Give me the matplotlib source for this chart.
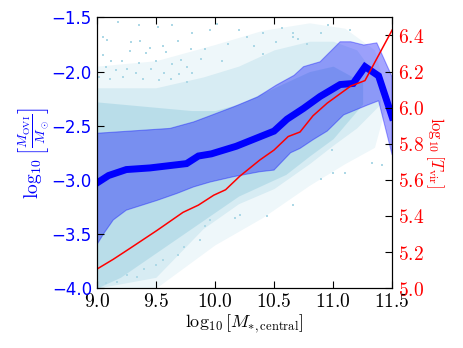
import numpy as np
import matplotlib
matplotlib.use("Agg")
import matplotlib.pyplot as plt
from matplotlib.ticker import FixedLocator, FuncFormatter

plt.rcParams['mathtext.fontset'] = 'cm'

# median OVI mass (thick blue line)
med_x = [9.0, 9.1, 9.25, 9.45, 9.76, 9.86, 9.97, 10.18, 10.5, 10.61, 10.75, 10.89, 11.06, 11.17, 11.27, 11.385, 11.5]
med_y = [-3.03, -2.96, -2.905, -2.89, -2.85, -2.78, -2.76, -2.69, -2.55, -2.44, -2.34, -2.23, -2.12, -2.11, -1.955, -2.04, -2.42]

# scatter band (upper / lower edge)
up_x = [9.0, 9.14, 9.62, 9.82, 9.93, 10.16, 10.36, 10.52, 10.67, 10.75, 10.89, 11.06, 11.15, 11.26, 11.37, 11.5]
up_y = [-2.57, -2.56, -2.525, -2.465, -2.42, -2.325, -2.235, -2.125, -2.035, -1.955, -1.91, -1.725, -1.725, -1.755, -1.735, -2.05]
lo_x = [9.0, 9.06, 9.14, 9.25, 9.51, 9.68, 9.82, 9.96, 10.16, 10.38, 10.5, 10.64, 10.72, 10.83, 10.95, 11.09, 11.29, 11.385, 11.5]
lo_y = [-3.6, -3.495, -3.37, -3.28, -3.19, -3.125, -3.065, -3.02, -2.97, -2.925, -2.91, -2.75, -2.71, -2.63, -2.55, -2.4, -2.31, -2.27, -2.77]

# virial temperature (red, right axis)
red_x = [9.0, 9.14, 9.28, 9.51, 9.73, 9.86, 9.99, 10.09, 10.21, 10.38, 10.5, 10.62, 10.72, 10.83, 10.95, 11.15, 11.27, 11.5]
red_y = [5.105, 5.16, 5.22, 5.32, 5.42, 5.46, 5.515, 5.545, 5.62, 5.71, 5.765, 5.84, 5.865, 5.955, 6.025, 6.12, 6.15, 6.43]

# galaxy cloud: outer, middle and dense layers
outer_x = [9.0, 9.5, 10.0, 10.4, 10.8, 11.1, 11.35, 11.45]
outer_hi = [-1.95, -1.9, -1.75, -1.62, -1.55, -1.6, -1.8, -2.2]
outer_lo = [-4.0, -4.0, -3.6, -3.35, -3.05, -2.85, -2.7, -2.3]
halo_x = [9.0, 9.5, 9.9, 10.2, 10.5, 10.8, 11.0, 11.2, 11.4]
halo_hi = [-2.15, -2.15, -2.05, -1.95, -1.8, -1.72, -1.72, -1.8, -2.1]
halo_lo = [-4.0, -3.9, -3.45, -3.22, -3.08, -2.85, -2.68, -2.52, -2.3]
dense_x = [9.0, 9.2, 9.4, 9.6, 9.8, 10.0, 10.2, 10.4, 10.6, 10.8, 11.0, 11.25]
dense_hi = [-2.28, -2.3, -2.32, -2.34, -2.36, -2.36, -2.3, -2.2, -2.1, -2.0, -1.95, -2.1]
dense_lo = [-4.0, -3.9, -3.75, -3.6, -3.45, -3.3, -3.15, -3.05, -2.95, -2.78, -2.62, -2.3]

# outlying galaxies
out_x = [9.18, 9.36, 9.52, 9.64, 9.81, 9.05, 9.09, 9.29, 9.37, 9.45, 9.56, 9.69, 9.28, 9.12, 9.21,
         9.42, 9.59, 9.71, 9.8, 9.05, 9.36, 9.5, 9.64, 9.76, 9.08, 9.16, 9.26, 9.33, 9.46, 9.57,
         9.7, 9.81, 9.02, 9.11, 9.22, 9.39, 9.53, 9.63, 9.76,
         9.96, 10.02, 10.2, 10.41, 10.57, 10.11, 10.33, 10.52, 9.92, 10.27, 10.66, 9.88, 10.06, 10.41,
         10.665, 10.9, 11.145, 10.96, 10.78, 10.7,
         9.876, 9.96, 10.17, 10.21, 10.44, 9.92, 10.66, 11.0, 11.1, 11.33, 11.41, 10.99, 10.9,
         9.08, 9.26, 9.4, 9.56, 9.74, 9.69, 9.5, 9.34, 9.17]
out_y = [-1.545, -1.57, -1.59, -1.57, -1.64, -1.68, -1.71, -1.73, -1.72, -1.78, -1.76, -1.72, -1.81, -1.9, -1.9,
         -1.83, -1.82, -1.89, -1.79, -1.85, -1.92, -1.9, -1.93, -1.96, -1.96, -1.99, -1.98, -2.01, -1.98, -2.01,
         -2.02, -2.01, -2.05, -2.07, -2.05, -2.07, -2.08, -2.07, -2.1,
         -1.62, -1.56, -1.62, -1.64, -1.6, -1.75, -1.76, -1.73, -1.79, -1.68, -1.68, -1.88, -1.9, -1.84,
         -1.64, -1.64, -1.62, -1.57, -1.75, -1.70,
         -3.557, -3.37, -3.35, -3.32, -3.33, -3.43, -3.23, -2.94, -2.94, -2.84, -2.86, -2.72, -2.99,
         -3.95, -3.88, -3.82, -3.74, -3.62, -3.69, -3.79, -3.9, -3.94]

fig = plt.figure(figsize=(4.63, 3.48), dpi=100)
ax = fig.add_axes([0.209, 0.172, 0.638, 0.778])

ax.fill_between(outer_x, outer_lo, outer_hi, color='lightblue', alpha=0.2, lw=0)
ax.fill_between(halo_x, halo_lo, halo_hi, color='lightblue', alpha=0.35, lw=0)
ax.fill_between(dense_x, dense_lo, dense_hi, color='lightblue', alpha=0.7, lw=0)
ax.plot(out_x, out_y, 's', color='lightblue', ms=1.6, mew=0)

band_x = np.concatenate([up_x, lo_x[::-1]])
band_y = np.concatenate([up_y, lo_y[::-1]])
ax.fill(band_x, band_y, facecolor='b', edgecolor='b', alpha=0.35, lw=0.8)
ax.plot(med_x, med_y, color='b', lw=5, solid_joinstyle='miter')

ax.set_xlim(9.0, 11.5)
ax.set_ylim(-4.0, -1.5)
ax.xaxis.set_major_locator(FixedLocator(np.arange(9.0, 11.51, 0.5)))
ax.xaxis.set_major_formatter(FuncFormatter(lambda v, p: '$%.1f$' % v))
ax.yaxis.set_major_locator(FixedLocator(np.arange(-4.0, -1.49, 0.5)))
ax.yaxis.set_major_formatter(FuncFormatter(lambda v, p: ('%.1f' % v).replace('-', '\u2212')))
ax.tick_params(axis='x', direction='in', length=5, top=True, labelsize=14, pad=3)
ax.tick_params(axis='y', direction='in', length=5, colors='k', labelcolor='b', labelsize=12)
ax.set_xlabel(r'$\log_{10}[M_{*,\rm central}]$', fontsize=13, labelpad=1)
ax.set_ylabel(r'$\log_{10}\left[\frac{M_{\rm OVI}}{M_\odot}\right]$', color='b', fontsize=14, labelpad=0)

ax2 = ax.twinx()
ax2.plot(red_x, red_y, color='r', lw=1.1)
ax2.set_ylim(5.0, 6.5)
ax2.yaxis.set_major_locator(FixedLocator(np.arange(5.0, 6.41, 0.2)))
ax2.yaxis.set_major_formatter(FuncFormatter(lambda v, p: '$%.1f$' % v))
ax2.tick_params(axis='y', direction='in', length=5, colors='k', labelcolor='r', labelsize=14, pad=4)
ax2.set_ylabel(r'$\log_{10}[T_{\rm vir}]$', color='r', fontsize=12, rotation=270, labelpad=16)

fig.savefig('out.png', dpi=100)
